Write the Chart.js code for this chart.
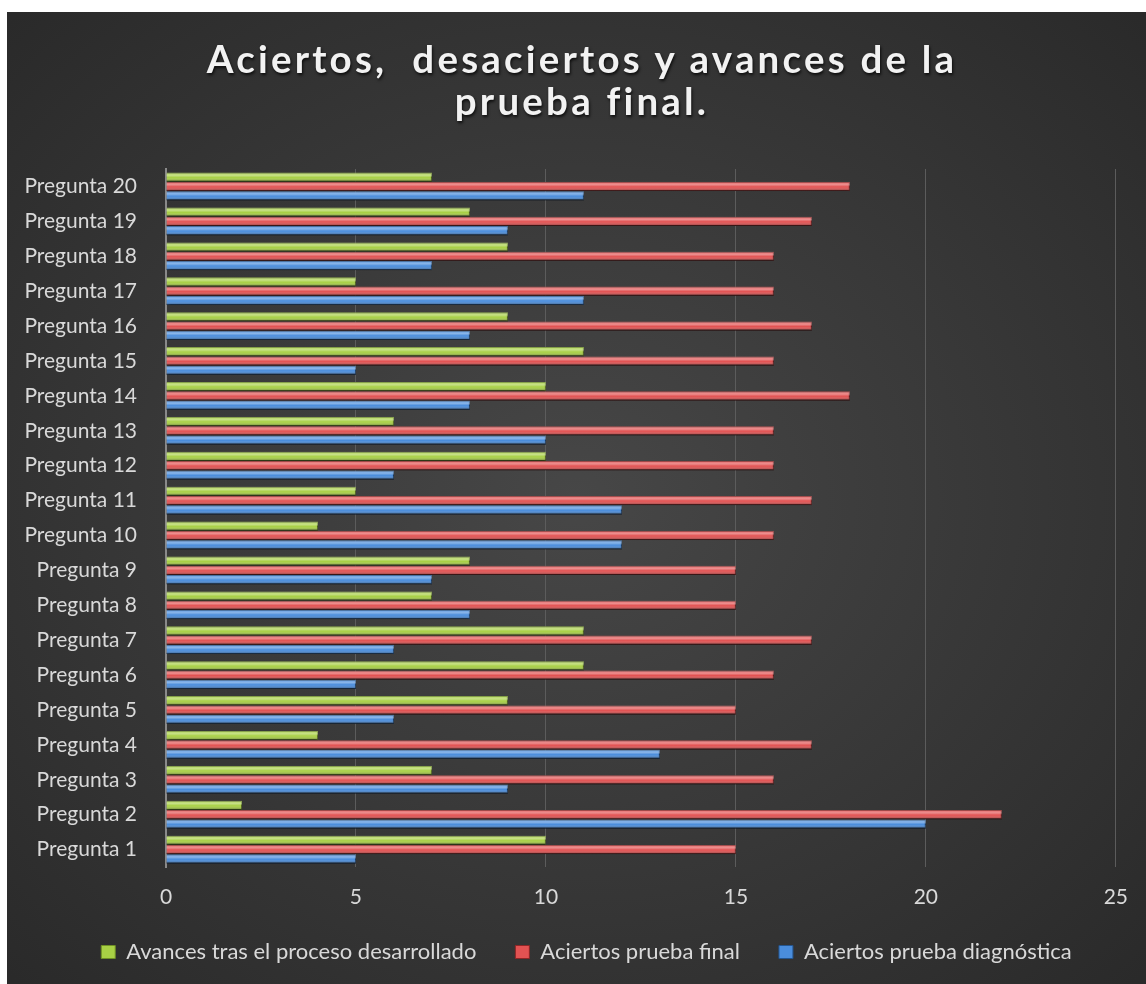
<!DOCTYPE html>
<html lang="es">
<head>
<meta charset="utf-8">
<script src="https://cdn.jsdelivr.net/npm/chart.js@4/dist/chart.umd.min.js"></script>
<style>
    html, body { margin: 0; padding: 0; background: #fff; }
    #panel {
        position: absolute; left: 7px; top: 12px; width: 1139px; height: 972px;
        background: radial-gradient(ellipse 70% 70% at 50% 50%, #474747 0%, #3a3a3a 45%, #2a2a2a 100%);
        overflow: hidden;
    }
    #title {
        position: absolute; left: 0; top: 25px; width: 1150px; text-align: center;
        font-family: Lato, 'Open Sans', sans-serif; font-weight: bold; font-size: 38.5px;
        line-height: 42px; letter-spacing: 3.2px; color: #f2f2f2;
        text-shadow: 1px 2px 3px rgba(0,0,0,0.75);
    }
    #wrap { position: absolute; left: 0; top: 0; width: 1139px; height: 972px; }
</style>
</head>
<body>
<div id="panel">
    <div id="wrap"><canvas id="chart"></canvas></div>
    <div id="title">Aciertos,&nbsp; desaciertos y avances de la<br>prueba final.</div>
</div>
<script>
// --- Dades ---
const preguntas = ['Pregunta 1','Pregunta 2','Pregunta 3','Pregunta 4','Pregunta 5','Pregunta 6','Pregunta 7',
    'Pregunta 8','Pregunta 9','Pregunta 10','Pregunta 11','Pregunta 12','Pregunta 13','Pregunta 14',
    'Pregunta 15','Pregunta 16','Pregunta 17','Pregunta 18','Pregunta 19','Pregunta 20'];
const avances      = [10, 2, 7, 4, 9, 11, 11, 7, 8, 4, 5, 10, 6, 10, 11, 9, 5, 9, 8, 7];
const aciertosFin  = [15, 22, 16, 17, 15, 16, 17, 15, 15, 16, 17, 16, 16, 18, 16, 17, 16, 16, 17, 18];
const aciertosDiag = [5, 20, 9, 13, 6, 5, 6, 8, 7, 12, 12, 6, 10, 8, 5, 8, 11, 7, 9, 11];
const xTicks = [0, 5, 10, 15, 20, 25];

const FONT = "Lato, 'Open Sans', sans-serif";
const TXT = '#d9d9d9';

// --- Efecte 3D de les barres ---
const barShine = {
    id: 'barShine',
    beforeDatasetsDraw(chart) {
        const ctx = chart.ctx;
        ctx.save();
        ctx.shadowColor = 'rgba(0,0,0,0.55)';
        ctx.shadowOffsetY = 2;
        ctx.shadowOffsetX = 1;
        ctx.shadowBlur = 3;
    },
    afterDatasetsDraw(chart) {
        const ctx = chart.ctx;
        ctx.restore();
        ctx.save();
        chart.data.datasets.forEach((ds, i) => {
            chart.getDatasetMeta(i).data.forEach(bar => {
                const h = bar.height, top = bar.y - h / 2;
                const left = bar.base, w = bar.x - bar.base;
                const g = ctx.createLinearGradient(0, top, 0, top + h);
                g.addColorStop(0, 'rgba(255,255,255,0.15)');
                g.addColorStop(0.3, 'rgba(255,255,255,0.35)');
                g.addColorStop(0.55, 'rgba(255,255,255,0.0)');
                g.addColorStop(1, 'rgba(0,0,0,0.45)');
                ctx.fillStyle = g;
                ctx.fillRect(left, top, w, h);
            });
        });
        ctx.restore();
    }
};

// --- Llegenda una mica desplaçada, com a l'original ---
const legendShift = {
    id: 'legendShift',
    afterLayout(chart) {
        const lg = chart.legend;
        lg.left += 15; lg.right += 15;
        lg.top -= 9; lg.bottom -= 9;
    }
};

function makeDataset(label, color, border, data) {
    return {
        label, data,
        backgroundColor: color,
        borderColor: border,
        borderWidth: 1,
        categoryPercentage: 0.8,
        barPercentage: 0.98,
    };
}

new Chart(document.getElementById('chart'), {
    type: 'bar',
    data: {
        labels: preguntas,
        datasets: [
            makeDataset('Avances tras el proceso desarrollado', '#a8d045', '#6f8f25', avances),
            makeDataset('Aciertos prueba final', '#e25252', '#8f2626', aciertosFin),
            makeDataset('Aciertos prueba diagnóstica', '#4a8ddc', '#24558f', aciertosDiag),
        ]
    },
    plugins: [barShine, legendShift],
    options: {
        indexAxis: 'y',
        responsive: true,
        maintainAspectRatio: false,
        animation: false,
        layout: { padding: { top: 157, right: 20, left: 10, bottom: 2 } },
        plugins: {
            legend: {
                position: 'bottom',
                labels: {
                    color: TXT, font: { family: FONT, size: 22 },
                    boxWidth: 14, boxHeight: 13, padding: 39,
                }
            },
            tooltip: { enabled: false }
        },
        scales: {
            x: {
                min: 0, max: 25,
                afterBuildTicks: axis => { axis.ticks = xTicks.map(v => ({ value: v })); },
                afterFit: axis => { axis.height = 44; },
                grid: { color: '#5c5c5c', lineWidth: 1, drawTicks: false },
                border: { display: false },
                ticks: { color: TXT, font: { family: FONT, size: 21 }, padding: 18 }
            },
            y: {
                reverse: true,
                afterFit: axis => { axis.width = 149; },
                grid: { display: false },
                border: { color: '#8a8a8a', width: 2 },
                ticks: { color: TXT, font: { family: FONT, size: 21 }, padding: 21, autoSkip: false }
            }
        }
    }
});
</script>
</body>
</html>
